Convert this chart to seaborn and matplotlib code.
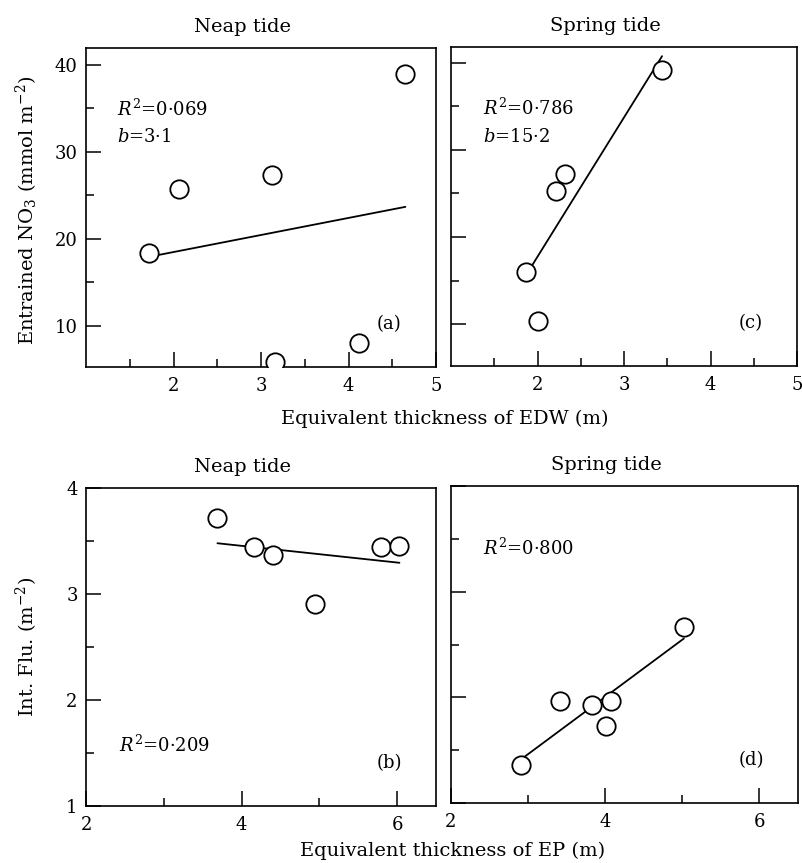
import matplotlib
matplotlib.use("Agg")
import matplotlib.pyplot as plt
import numpy as np
import pandas as pd
import seaborn as sns
from matplotlib.ticker import FixedLocator, NullFormatter

# ---------------- data ----------------
edw_neap = [1.72, 2.06, 3.12, 3.16, 4.12, 4.65]
no3_neap = [18.4, 25.7, 27.3, 5.9, 8.1, 38.9]

edw_spring = [1.87, 2.00, 2.21, 2.32, 3.44]
no3_spring = [16.0, 10.4, 25.3, 27.2, 39.2]

ep_neap = [3.69, 4.16, 4.41, 4.95, 5.79, 6.03]
flu_neap = [3.72, 3.44, 3.37, 2.91, 3.44, 3.45]

ep_spring = [2.91, 3.42, 3.83, 4.08, 4.01, 5.02]
flu_spring = [1.36, 1.97, 1.93, 1.97, 1.73, 2.67]

panel_titles = ["Neap tide", "Spring tide"]
panel_tags = ["(a)", "(c)", "(b)", "(d)"]
stats_text = [
    ["$R^2$=0·069", "$b$=3·1"],
    ["$R^2$=0·786", "$b$=15·2"],
    ["$R^2$=0·209"],
    ["$R^2$=0·800"],
]
edw_major = [2, 3, 4, 5]
edw_minor = [1.5, 2.5, 3.5, 4.5]
no3_major = [10, 20, 30, 40]
no3_minor = [15, 25, 35]
ep_major = [2, 4, 6]
ep_minor = [3, 5]
flu_major = [1, 2, 3, 4]
flu_minor = [1.5, 2.5, 3.5]

# ---------------- style ----------------
sns.set_theme(style="white")
plt.rcParams["font.family"] = ["DejaVu Serif"]
plt.rcParams["mathtext.fontset"] = "dejavuserif"
plt.rcParams["axes.linewidth"] = 1.2
for key in ["text.color", "axes.labelcolor", "xtick.color", "ytick.color",
            "axes.edgecolor"]:
    plt.rcParams[key] = "black"

fig = plt.figure(figsize=(8.02, 8.63), dpi=100)
W, H = 802, 863


def add_ax(l, t, r, b):
    return fig.add_axes([l / W, 1 - b / H, (r - l) / W, (b - t) / H])


ax_a = add_ax(86, 48, 436, 367)
ax_c = add_ax(451, 47, 797, 366)
ax_b = add_ax(86, 488, 436, 806)
ax_d = add_ax(451, 486, 798, 803)

panels = [
    (ax_a, edw_neap, no3_neap, (1, 5), (5.3, 41.9), edw_major, edw_minor, no3_major, no3_minor, True),
    (ax_c, edw_spring, no3_spring, (1, 5), (5.2, 41.8), edw_major, edw_minor, no3_major, no3_minor, False),
    (ax_b, ep_neap, flu_neap, (2, 6.5), (1, 4), ep_major, ep_minor, flu_major, flu_minor, True),
    (ax_d, ep_spring, flu_spring, (2, 6.5), (1, 4), ep_major, ep_minor, flu_major, flu_minor, False),
]

stat_pos = [(0.089, 0.809), (0.093, 0.808), (0.095, 0.191), (0.093, 0.805)]
line_gap = 0.089

for i, (ax, xs, ys, xl, yl, xmj, xmn, ymj, ymn, ylab) in enumerate(panels):
    df = pd.DataFrame({"x": xs, "y": ys})
    sns.regplot(data=df, x="x", y="y", ax=ax, scatter=False, ci=None,
                truncate=True, color="black", line_kws=dict(lw=1.3, zorder=2))
    sns.scatterplot(data=df, x="x", y="y", ax=ax, s=175, facecolor="white",
                    edgecolor="black", linewidth=1.3, zorder=3)
    ax.set_xlim(*xl)
    ax.set_ylim(*yl)
    ax.xaxis.set_major_locator(FixedLocator(xmj))
    ax.xaxis.set_minor_locator(FixedLocator(xmn))
    ax.yaxis.set_major_locator(FixedLocator(ymj))
    ax.yaxis.set_minor_locator(FixedLocator(ymn))
    ax.tick_params(which="major", direction="in", length=11, width=1.1,
                   labelsize=13, colors="black", bottom=True, left=True,
                   top=False, right=False)
    ax.tick_params(which="minor", direction="in", length=5.5, width=1.1,
                   colors="black", bottom=True, left=True, top=False, right=False)
    ax.tick_params(axis="x", which="major", pad=7)
    ax.tick_params(axis="y", which="major", pad=6)
    if not ylab:
        ax.yaxis.set_major_formatter(NullFormatter())
    ax.set_xlabel("")
    ax.set_ylabel("")
    for s in ax.spines.values():
        s.set_color("black")
        s.set_linewidth(1.2)
    # title (slightly left of centre as in original)
    ax.text(0.447, 1.05, panel_titles[i % 2], transform=ax.transAxes,
            ha="center", va="baseline", fontsize=14, color="black")
    # panel tag
    ax.text(0.866, 0.134, panel_tags[i], transform=ax.transAxes,
            ha="center", va="center", fontsize=13, color="black")
    # stats
    sx, sy = stat_pos[i]
    for k, t in enumerate(stats_text[i]):
        ax.text(sx, sy - k * line_gap, t, transform=ax.transAxes,
                ha="left", va="center", fontsize=13, color="black")

fig.text(27 / W, 1 - 210 / H, "Entrained NO$_3$ (mmol m$^{-2}$)", rotation=90,
         ha="center", va="center", fontsize=14, color="black")
fig.text(27 / W, 1 - 647 / H, "Int. Flu. (m$^{-2}$)", rotation=90,
         ha="center", va="center", fontsize=14, color="black")
fig.text(445 / W, 1 - 424 / H, "Equivalent thickness of EDW (m)",
         ha="center", va="baseline", fontsize=14, color="black")
fig.text(453 / W, 1 - 856 / H, "Equivalent thickness of EP (m)",
         ha="center", va="baseline", fontsize=14, color="black")

fig.savefig("out.png", dpi=100)
